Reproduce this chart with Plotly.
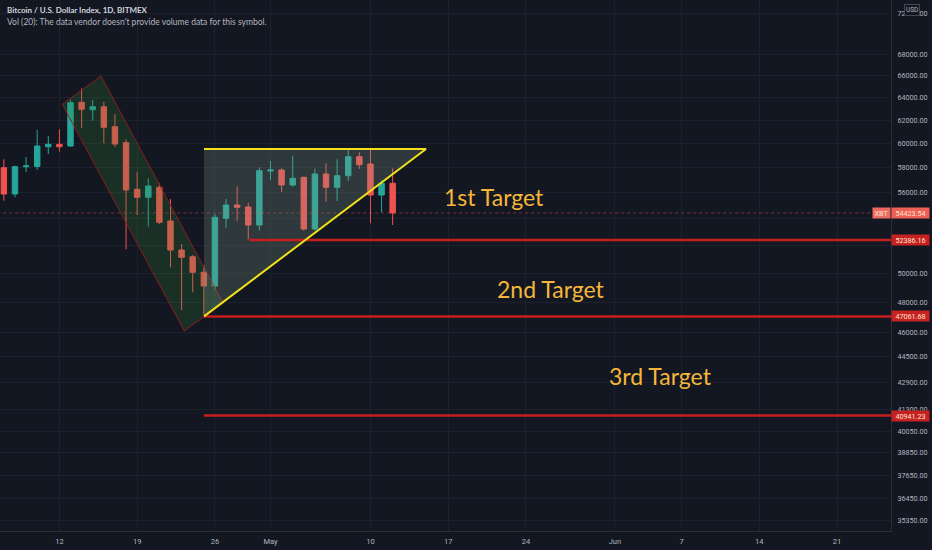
import math
import pandas as pd
import plotly.graph_objects as go

# ---------------- data ----------------
dates = pd.date_range("2021-04-07", "2021-05-12", freq="D").strftime("%Y-%m-%d").tolist()
opens = [57994, 55891, 58076, 58100, 59730, 59932, 59789, 63573, 62915, 63181,
         61432, 60067, 56261, 55632, 56420, 53811, 51663, 51179, 50070, 49116,
         54016, 55034, 54880, 53509, 57726, 57807, 56602, 57218, 53210, 57484,
         56420, 57346, 58897, 58296, 55812, 56737]
highs = [58682, 58157, 58872, 61147, 60633, 61207, 63778, 64836, 63778, 63626,
         62537, 60355, 57669, 57137, 56737, 55500, 52101, 51300, 50586, 54343,
         55500, 56467, 55212, 58026, 58542, 57945, 58955, 57250, 57913, 58354,
         58682, 59454, 59262, 59454, 56945, 57945]
lows = [55367, 55632, 57645, 57807, 59121, 59312, 59700, 61293, 61952, 60016,
        59680, 51714, 54267, 53382, 53585, 50423, 47488, 48683, 47156, 48841,
        53307, 53834, 52446, 53083, 57001, 56048, 56467, 53083, 53083, 55290,
        55344, 56945, 57900, 53637, 54472, 53509]
closes = [55891, 58076, 58140, 59789, 59932, 59730, 63537, 62951, 63181, 61380,
          59957, 56206, 55632, 56522, 53713, 51663, 51136, 50070, 49116, 54091,
          55034, 54857, 53509, 57750, 57807, 56602, 57137, 53210, 57484, 56420,
          57346, 58897, 58239, 55812, 56737, 54423.54]

last_price = 54423.54
targets = [52386.16, 47061.68, 40941.23]
target_starts = ["2021-04-29 02:00", "2021-04-25", "2021-04-25"]

x_tick_vals = ["2021-04-12", "2021-04-19", "2021-04-26", "2021-05-01", "2021-05-10",
               "2021-05-17", "2021-05-24", "2021-06-01", "2021-06-07", "2021-06-14",
               "2021-06-21"]
x_tick_text = ["12", "19", "26", "May", "10", "17", "24", "Jun", "7", "14", "21"]

y_tick_vals = [72000, 68000, 66000, 64000, 62000, 60000, 58000, 56000, 54000, 52000,
               50000, 48000, 46000, 44500, 42900, 41300, 40050, 38850, 37650, 36450, 35350]
# 54000 / 52000 sit behind the price badges in the reference
y_tick_text = ["" if v in (54000, 52000) else f"{v:.2f}" for v in y_tick_vals]

# drawings (date, price)
channel_x = ["2021-04-12 06:14", "2021-04-15 17:53", "2021-04-26 17:27", "2021-04-23 05:50", "2021-04-12 06:14"]
channel_y = [63395, 65966, 47978, 46108, 63395]
tri_x = ["2021-04-25 00:30", "2021-05-15 00:00", "2021-04-25 00:30", "2021-04-25 00:30"]
tri_y = [59537, 59537, 47061.68, 59537]

labels = ["1st Target", "2nd Target", "3rd Target"]
label_x = ["2021-05-21 02:00", "2021-05-26 06:00", "2021-06-05 03:30"]
label_y = [55655, 48909, 43284]

# ---------------- styling ----------------
BG = "#131722"
GRID = "#1d212d"
AXIS_TXT = "#b2b5be"
UI = "Roboto, Lato, sans-serif"
HEAD = "Lato, Roboto, sans-serif"

fig = go.Figure()

fig.add_trace(go.Candlestick(
    x=dates, open=opens, high=highs, low=lows, close=closes,
    increasing=dict(line=dict(color="#26a69a", width=1), fillcolor="#26a69a"),
    decreasing=dict(line=dict(color="#ef5350", width=1), fillcolor="#ef5350"),
    whiskerwidth=0, hoverinfo="skip",
))

# current price dotted line
fig.add_trace(go.Scatter(
    x=["2021-04-01", "2021-07-10"], y=[last_price, last_price], mode="lines",
    line=dict(color="rgba(239,83,80,0.45)", width=1, dash="dot"), hoverinfo="skip",
))

# falling channel
fig.add_trace(go.Scatter(
    x=channel_x, y=channel_y, mode="lines", fill="toself",
    fillcolor="rgba(56,142,60,0.22)", line=dict(color="#8e1b1b", width=1),
    hoverinfo="skip",
))

# triangle fill
fig.add_trace(go.Scatter(
    x=tri_x, y=tri_y, mode="lines", fill="toself",
    fillcolor="rgba(130,160,140,0.25)", line=dict(color="rgba(0,0,0,0)", width=0),
    hoverinfo="skip",
))

# target lines
for t, s in zip(targets, target_starts):
    fig.add_trace(go.Scatter(
        x=[s, "2021-07-10"], y=[t, t], mode="lines",
        line=dict(color="#c81e1e", width=2.5), hoverinfo="skip",
    ))

# triangle yellow edges
fig.add_trace(go.Scatter(
    x=[tri_x[2], tri_x[1], tri_x[0]], y=[tri_y[2], tri_y[1], tri_y[0]], mode="lines",
    line=dict(color="#f2e11a", width=2), hoverinfo="skip",
))

annotations = []
for txt, lx, ly in zip(labels, label_x, label_y):
    annotations.append(dict(
        x=lx, y=math.log10(ly), xref="x", yref="y", text=txt, showarrow=False,
        font=dict(family=HEAD, size=23, color="#f5b63a"),
        xanchor="center", yanchor="middle",
    ))

# price labels on axis
for t in targets:
    annotations.append(dict(
        x=1, y=math.log10(t), xref="paper", yref="y", text=f"{t:.2f}",
        showarrow=False, xanchor="left", yanchor="middle",
        font=dict(family=UI, size=7.2, color="#fde3d3"),
        bgcolor="#c62221", borderpad=1, width=35, height=8, align="center",
    ))
annotations.append(dict(
    x=1, y=math.log10(last_price), xref="paper", yref="y", text=f"{last_price:.2f}",
    showarrow=False, xanchor="left", yanchor="middle",
    font=dict(family=UI, size=7.2, color="#ffe3cf"),
    bgcolor="#ee5f57", borderpad=1, width=35, height=8, align="center",
))
annotations.append(dict(
    x=1, y=math.log10(last_price), xref="paper", yref="y", text="XBT",
    showarrow=False, xanchor="right", yanchor="middle",
    font=dict(family=UI, size=7.2, color="#ffe3cf"),
    bgcolor="#ee6a60", borderpad=1, width=15, height=8, align="center",
))
annotations.append(dict(
    x=911.5 / 891, y=1 - 10.5 / 531, xref="paper", yref="paper", text="USD",
    showarrow=False, xanchor="center", yanchor="middle",
    font=dict(family=UI, size=6.5, color=AXIS_TXT),
    bgcolor=BG, bordercolor="#434651", borderwidth=1, borderpad=1,
))

# header text
annotations.append(dict(
    x=5 / 891, y=1 - 10 / 531, xref="paper", yref="paper",
    text="Bitcoin / U.S. Dollar Index, 1D, BITMEX", showarrow=False,
    xanchor="left", yanchor="middle",
    font=dict(family=HEAD, size=8, color="#d1d4dc", weight="bold"),
))
annotations.append(dict(
    x=5 / 891, y=1 - 22 / 531, xref="paper", yref="paper",
    text="Vol (20): The data vendor doesn't provide volume data for this symbol.",
    showarrow=False, xanchor="left", yanchor="middle",
    font=dict(family=HEAD, size=8.5, color=AXIS_TXT),
))

fig.update_layout(
    width=932, height=550,
    margin=dict(l=0, r=41, t=0, b=19, autoexpand=False),
    paper_bgcolor=BG, plot_bgcolor=BG,
    showlegend=False,
    annotations=annotations,
    xaxis=dict(
        type="date", range=["2021-04-06 15:40", "2021-06-25 20:35"],
        rangeslider=dict(visible=False), automargin=False,
        tickvals=x_tick_vals, ticktext=x_tick_text,
        showgrid=True, gridcolor=GRID, gridwidth=1, zeroline=False,
        showline=True, linecolor="#2a2e39", linewidth=1, ticks="",
        ticklabelstandoff=3,
        tickfont=dict(family=UI, size=7.5, color=AXIS_TXT),
    ),
    yaxis=dict(
        type="log", side="right", range=[4.54178, 4.86568], automargin=False,
        tickvals=y_tick_vals, ticktext=y_tick_text,
        showgrid=True, gridcolor=GRID, gridwidth=1, zeroline=False,
        showline=True, linecolor="#2a2e39", linewidth=1, ticks="",
        ticklabelstandoff=4,
        tickfont=dict(family=UI, size=7.2, color=AXIS_TXT),
    ),
)

fig.write_html(
    "out.html",
    config={"displayModeBar": False},
    post_script="document.body.style.margin='0';document.body.style.background='#131722';",
)
